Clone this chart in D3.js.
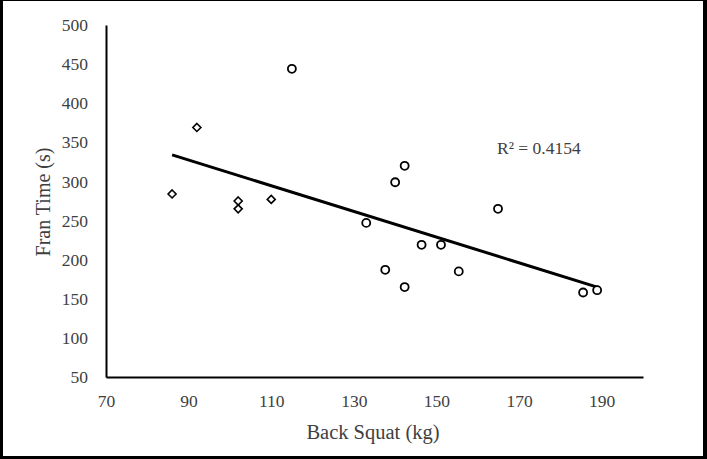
<!DOCTYPE html>
<html>
<head>
<meta charset="utf-8">
<script src="https://cdn.jsdelivr.net/npm/d3@7"></script>
<style>
  body { margin: 0; background: #000; }
  svg { display: block; }
</style>
</head>
<body>
<script>
// data -------------------------------------------------------------------
var diamondX = [86, 92, 102, 102, 110];
var diamondY = [284, 369, 275, 265, 277];
var circleX = [115, 133, 137.6, 140, 142.3, 142.3, 146.4, 151.1, 155.4, 164.9, 185.5, 188.9];
var circleY = [444, 247, 187, 299, 320, 165, 219, 219, 185, 265, 158, 161];
var trendX = [86, 189.5];
var trendY = [334, 164];
var xTicks = [70, 90, 110, 130, 150, 170, 190];
var yTicks = [50, 100, 150, 200, 250, 300, 350, 400, 450, 500];
var r2Label = "R\u00B2 = 0.4154";

var width = 707, height = 459;
var serif = "'Liberation Serif', 'DejaVu Serif', serif";

var svg = d3.select("body").append("svg")
  .attr("width", width)
  .attr("height", height);

// black frame with white page inside
svg.append("rect").attr("width", width).attr("height", height).attr("fill", "#000");
svg.append("rect").attr("x", 3).attr("y", 1).attr("width", 700).attr("height", 455).attr("fill", "#fff");

var x = d3.scaleLinear().domain([70, 200]).range([106, 643]);
var y = d3.scaleLinear().domain([50, 500]).range([377, 25]);

// axes ----------------------------------------------------------------------
var xAxis = svg.append("g")
  .attr("transform", "translate(0," + y(50) + ")")
  .call(d3.axisBottom(x).tickValues(xTicks).tickSize(0).tickPadding(18));
xAxis.select(".domain").attr("stroke", "#000").attr("stroke-width", 2);
xAxis.selectAll("text")
  .style("font-family", serif).style("font-size", "17.5px").attr("fill", "#404040");

var yAxis = svg.append("g")
  .attr("transform", "translate(" + x(70) + ",0)")
  .call(d3.axisLeft(y).tickValues(yTicks).tickSize(0).tickPadding(18));
yAxis.select(".domain").attr("stroke", "#000").attr("stroke-width", 2);
yAxis.selectAll("text")
  .style("font-family", serif).style("font-size", "17.5px").attr("fill", "#404040");

// axis titles
svg.append("text")
  .attr("x", 373).attr("y", 439)
  .attr("text-anchor", "middle")
  .style("font-family", serif).style("font-size", "20.5px").attr("fill", "#404040")
  .text("Back Squat (kg)");

svg.append("text")
  .attr("transform", "translate(50,202) rotate(-90)")
  .attr("text-anchor", "middle")
  .style("font-family", serif).style("font-size", "20px").attr("fill", "#404040")
  .text("Fran Time (s)");

// trend line
svg.append("line")
  .attr("x1", x(trendX[0])).attr("y1", y(trendY[0]))
  .attr("x2", x(trendX[1])).attr("y2", y(trendY[1]))
  .attr("stroke", "#000").attr("stroke-width", 3);

// markers
var diamonds = diamondX.map(function(d, i) { return { x: d, y: diamondY[i] }; });
var circles = circleX.map(function(d, i) { return { x: d, y: circleY[i] }; });

svg.selectAll(".dia")
  .data(diamonds)
  .enter().append("path")
  .attr("class", "dia")
  .attr("d", "M0,-4L4,0L0,4L-4,0Z")
  .attr("transform", function(d) { return "translate(" + x(d.x) + "," + y(d.y) + ")"; })
  .attr("fill", "#fff").attr("stroke", "#000").attr("stroke-width", 1.6);

svg.selectAll(".dot")
  .data(circles)
  .enter().append("circle")
  .attr("class", "dot")
  .attr("cx", function(d) { return x(d.x); })
  .attr("cy", function(d) { return y(d.y); })
  .attr("r", 4)
  .attr("fill", "#fff").attr("stroke", "#000").attr("stroke-width", 1.8);

// R squared label
svg.append("text")
  .attr("x", 497).attr("y", 154)
  .style("font-family", serif).style("font-size", "17.5px").attr("fill", "#404040")
  .text(r2Label);
</script>
</body>
</html>
